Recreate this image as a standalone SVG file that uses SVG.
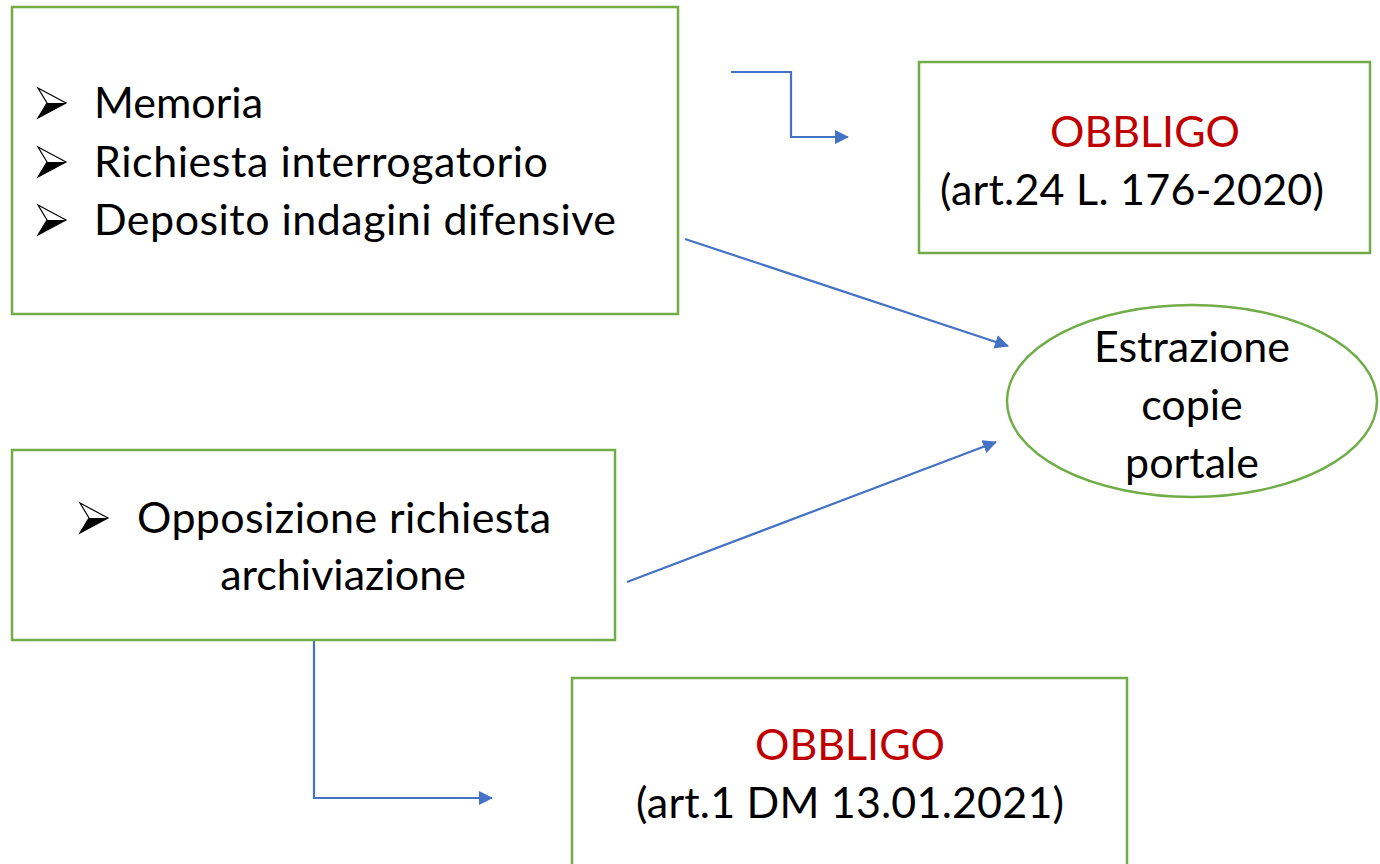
<svg xmlns="http://www.w3.org/2000/svg" width="1380" height="864" viewBox="0 0 1380 864">
<style>
.box{fill:#fff;stroke:#70AD47;stroke-width:2.5}
.t{font-family:Lato,"Open Sans","Liberation Sans",sans-serif;font-size:43px;fill:#000}
.red{fill:#C00000}
.c{stroke:#4472C4;stroke-width:2.2;fill:none}
.bul-o{fill:#fff;stroke:#000;stroke-width:1.2;stroke-linejoin:miter}
.bul-f{fill:#000}
</style>
<defs>
<marker id="ah" viewBox="0 0 14 14" refX="13" refY="7" markerWidth="14" markerHeight="14" markerUnits="userSpaceOnUse" orient="auto">
<path d="M0,0 L14,7 L0,14 Z" fill="#4472C4"/>
</marker>
<g id="bul">
<path class="bul-o" d="M0,0 L28,15 L0,30 L9,15 Z"/>
<path class="bul-f" d="M9,15 L28,15 L0,30 Z"/>
</g>
</defs>
<g id="connectors">
<path class="c" d="M731,72 H791 V137 H848" marker-end="url(#ah)"/>
<path class="c" d="M685,239 L1008,346" marker-end="url(#ah)"/>
<path class="c" d="M627,582 L996,442" marker-end="url(#ah)"/>
<path class="c" d="M314,641 V798 H492" marker-end="url(#ah)"/>
</g>
<g id="node-activities">
<rect class="box" x="12" y="7" width="666" height="307"/>
<use href="#bul" x="38" y="88"/>
<use href="#bul" x="38" y="147"/>
<use href="#bul" x="38" y="205"/>
<text class="t" x="94" y="118">Memoria</text>
<text class="t" x="94" y="177" textLength="454">Richiesta interrogatorio</text>
<text class="t" x="94" y="235" textLength="522">Deposito indagini difensive</text>
</g>
<g id="node-obbligo1">
<rect class="box" x="919" y="62" width="451" height="191"/>
<text class="t red" x="1145" y="147" text-anchor="middle">OBBLIGO</text>
<text class="t" x="1132" y="205" text-anchor="middle" textLength="384">(art.24 L. 176-2020)</text>
</g>
<g id="node-estrazione">
<ellipse class="box" cx="1192" cy="401" rx="185" ry="96"/>
<text class="t" x="1192" y="362" text-anchor="middle">Estrazione</text>
<text class="t" x="1192" y="420" text-anchor="middle">copie</text>
<text class="t" x="1192" y="478" text-anchor="middle">portale</text>
</g>
<g id="node-opposizione">
<rect class="box" x="12" y="450" width="603" height="190"/>
<use href="#bul" x="80" y="503"/>
<text class="t" x="137" y="533" textLength="414">Opposizione richiesta</text>
<text class="t" x="343" y="590" text-anchor="middle">archiviazione</text>
</g>
<g id="node-obbligo2">
<rect class="box" x="572" y="678" width="555" height="200"/>
<text class="t red" x="850" y="760" text-anchor="middle">OBBLIGO</text>
<text class="t" x="850" y="818" text-anchor="middle" textLength="428">(art.1 DM 13.01.2021)</text>
</g>
</svg>
